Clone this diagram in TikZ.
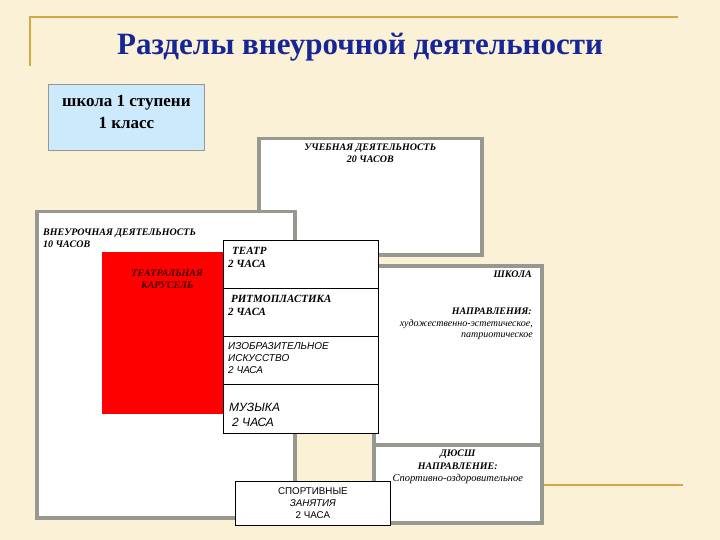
\documentclass[tikz,border=0pt]{standalone}
\usepackage{fontspec}
\setmainfont{Liberation Serif}
\setsansfont{Liberation Sans}
\usetikzlibrary{positioning}

\definecolor{slidebg}{RGB}{250,241,214}
\definecolor{rulegold}{RGB}{212,168,70}
\definecolor{panelgray}{RGB}{152,152,144}
\definecolor{titleblue}{RGB}{22,38,150}
\definecolor{paleblue}{RGB}{204,234,252}
\definecolor{carouselred}{RGB}{255,0,0}
\definecolor{darktext}{RGB}{60,0,0}

\begin{document}
\begin{tikzpicture}[x=1pt, y=-1pt,
    panel/.style={draw=panelgray, line width=3.5pt, fill=white, anchor=north west, inner sep=0pt},
    cell/.style={draw=black, line width=0.8pt, fill=white, anchor=north west, inner sep=0pt, minimum width=155pt, minimum height=48pt},
    capsit/.style={font=\fontsize{10}{11.5}\selectfont\bfseries\itshape, inner sep=0pt},
    cellcaps/.style={font=\fontsize{11}{13}\selectfont\bfseries\itshape, inner sep=0pt, align=left, anchor=north west},
    sansit/.style={inner sep=0pt, align=left, anchor=north west}
]

% slide background and template rules
\fill[slidebg] (0,0) rectangle (720,540);
\useasboundingbox (0,0) rectangle (720,540);
\draw[rulegold, line width=2pt] (30,66) -- (30,17) -- (678,17);
\draw[rulegold, line width=2pt] (541,485) -- (683,485);

% title
\node[font=\fontsize{31}{35}\selectfont\bfseries, text=titleblue] (title) at (360,47) {Разделы внеурочной деятельности};

% level box
\node[anchor=north west, draw=panelgray, line width=0.8pt, fill=paleblue, minimum width=156pt, minimum height=66pt] (stupen) at (48,84) {};
\node[font=\fontsize{17}{22}\selectfont\bfseries, align=center, inner sep=0pt, below=11pt of stupen.north] (stupentxt) {школа 1 ступени\\1 класс};

% big panels
\node[panel, minimum width=223pt, minimum height=116pt] (ucheb) at (257,137) {};
\node[capsit, align=center, below=7pt of ucheb.north] (uchebtxt) {УЧЕБНАЯ ДЕЯТЕЛЬНОСТЬ\\20 ЧАСОВ};

\node[panel, minimum width=258pt, minimum height=306pt] (vneur) at (35,210) {};
\node[capsit, align=left, anchor=north west] (vneurtxt) at (43,229) {ВНЕУРОЧНАЯ ДЕЯТЕЛЬНОСТЬ\\10 ЧАСОВ};

\node[anchor=north west, fill=carouselred, inner sep=0pt, minimum width=130pt, minimum height=162pt] (karusel) at (102,252) {};
\node[capsit, align=center, text=darktext, below=18pt of karusel.north] (karuseltxt) {ТЕАТРАЛЬНАЯ\\КАРУСЕЛЬ};

\node[panel, minimum width=168pt, minimum height=179pt] (shkola) at (372,264) {};
\node[capsit, anchor=north east] (shkolatxt) at (532,271) {ШКОЛА};
\node[capsit, anchor=north east] (napr) at (532,308) {НАПРАВЛЕНИЯ:};
\node[font=\fontsize{10}{11.5}\selectfont\itshape, align=right, inner sep=0pt, anchor=north east] (naprtxt) at (533,319) {художественно-эстетическое,\\патриотическое};

\node[panel, minimum width=168pt, minimum height=78pt] (dyussh) at (372,443) {};
\node[capsit, align=center, font=\fontsize{10}{13}\selectfont\bfseries\itshape, below=7pt of dyussh.north] (dyusshtxt) {ДЮСШ\\НАПРАВЛЕНИЕ:};
\node[font=\fontsize{10.5}{12}\selectfont\itshape, inner sep=0pt, below=4pt of dyusshtxt] (sporttxt) {Спортивно-оздоровительное};

% stacked hour cells
\node[cell] (teatr) at (223,240) {};
\node[cell] (ritm) at (223,288) {};
\node[cell] (izo) at (223,336) {};
\node[cell, minimum height=49pt] (muz) at (223,384) {};
\node[cellcaps] (teatrtxt) at (228,247) {\hspace{4pt}ТЕАТР\\2 ЧАСА};
\node[cellcaps] (ritmtxt) at (228,295) {\hspace{3pt}РИТМОПЛАСТИКА\\2 ЧАСА};
\node[sansit, font=\fontsize{10}{12}\selectfont\sffamily\itshape] (izotxt) at (228,342) {ИЗОБРАЗИТЕЛЬНОЕ\\ИСКУССТВО\\2 ЧАСА};
\node[sansit, font=\fontsize{12}{15}\selectfont\sffamily\itshape] (muztxt) at (229,403) {МУЗЫКА\\\hspace{3pt}2 ЧАСА};

% sport cell
\node[cell, minimum height=44pt] (sport) at (235,481) {};
\node[font=\fontsize{9.8}{12}\selectfont\sffamily, align=center, inner sep=0pt] (sportcelltxt) at (sport.center) {СПОРТИВНЫЕ\\\textit{ЗАНЯТИЯ}\\2 ЧАСА};

\end{tikzpicture}
\end{document}
